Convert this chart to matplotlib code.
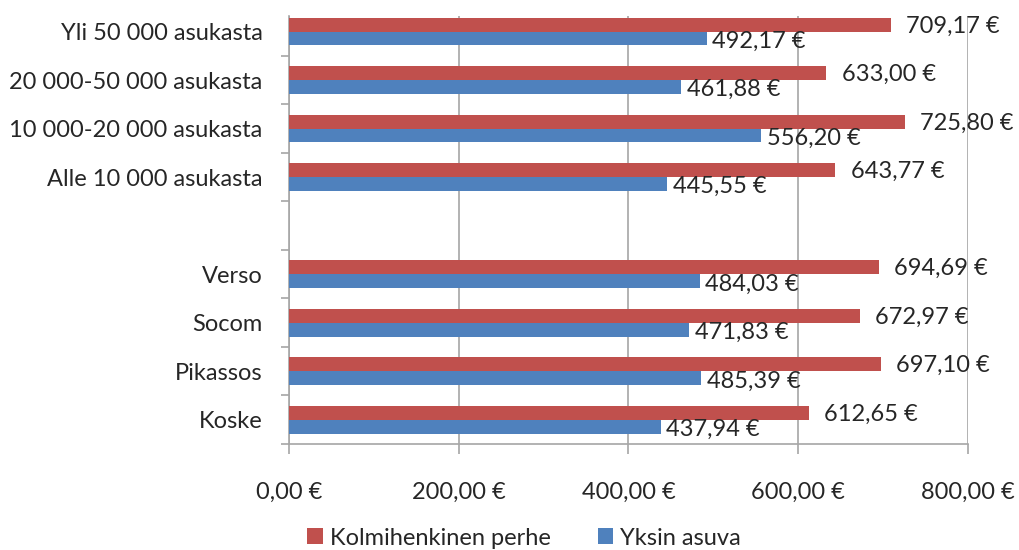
import matplotlib.pyplot as plt
import numpy as np

plt.rcParams['font.family'] = ['Lato', 'DejaVu Sans']

# categories from bottom to top, empty slot between the two groups
categories = ['Koske', 'Pikassos', 'Socom', 'Verso', '',
              'Alle 10 000 asukasta', '10 000-20 000 asukasta',
              '20 000-50 000 asukasta', 'Yli 50 000 asukasta']
perhe = [612.65, 697.10, 672.97, 694.69, None, 643.77, 725.80, 633.00, 709.17]
yksin = [437.94, 485.39, 471.83, 484.03, None, 445.55, 556.20, 461.88, 492.17]
series_names = ['Kolmihenkinen perhe', 'Yksin asuva']
xticks = [0, 200, 400, 600, 800]

red = '#C0504D'
blue = '#4F81BD'
grey = '#A6A6A6'
txt = '#262626'
fs = 17


def fmt(v):
    return f'{v:.2f}'.replace('.', ',') + ' €'


fig = plt.figure(figsize=(10.2, 5.5), dpi=100)
ax = fig.add_axes([0.2833, 0.1927, 0.6657, 0.7782])

y = np.arange(len(categories))
h = 0.285
idx = [i for i in y if perhe[i] is not None]
p_vals = [perhe[i] for i in idx]
y_vals = [yksin[i] for i in idx]
pos = np.array(idx)

ax.barh(pos + h / 2, p_vals, height=h, color=red, label=series_names[0], zorder=3)
ax.barh(pos - h / 2, y_vals, height=h, color=blue, label=series_names[1], zorder=3)

for p, v in zip(pos, p_vals):
    ax.annotate(fmt(v), (v, p + h / 2), xytext=(11, -1), textcoords='offset points',
                ha='left', va='center', fontsize=fs, color=txt)
for p, v in zip(pos, y_vals):
    ax.annotate(fmt(v), (v, p - h / 2), xytext=(4, -2), textcoords='offset points',
                ha='left', va='center', fontsize=fs, color=txt)

ax.set_xlim(0, 800)
ax.set_ylim(-0.5, 8.32)
ax.set_xticks(xticks)
ax.set_xticklabels([fmt(v) for v in xticks], fontsize=fs, color=txt)
ax.set_yticks(y)
ax.set_yticklabels(categories, fontsize=fs, color=txt)
ax.set_yticks(np.arange(-0.5, 8.5, 1), minor=True)
ax.tick_params(axis='y', which='major', length=0, pad=19)
ax.tick_params(axis='y', which='minor', length=6, color=grey, width=1.2)
ax.tick_params(axis='x', length=7, color=grey, width=1.2, pad=20)

ax.grid(axis='x', color=grey, linewidth=1.2, zorder=0)
for s in ['top', 'right']:
    ax.spines[s].set_visible(False)
for s in ['left', 'bottom']:
    ax.spines[s].set_color(grey)
    ax.spines[s].set_linewidth(1.2)

fig.legend(loc='lower center', bbox_to_anchor=(0.514, -0.036), ncol=2, frameon=False,
           fontsize=fs, handlelength=0.65, handleheight=0.65, handletextpad=0.3,
           columnspacing=2.0, labelcolor=txt)

fig.savefig('out.png', dpi=100)
